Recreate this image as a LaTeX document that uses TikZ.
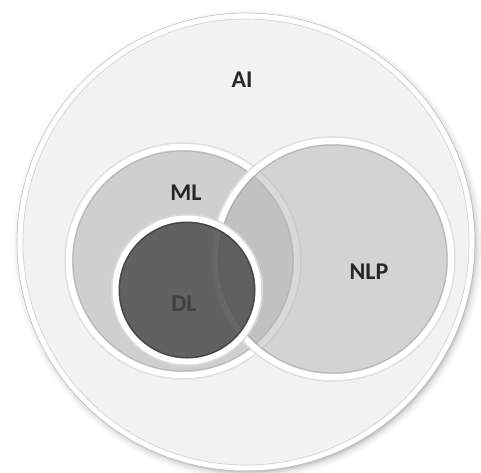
\documentclass[tikz,border=0pt]{standalone}
\usepackage{fontspec}
\setmainfont{Carlito}
\begin{document}
\begin{tikzpicture}[x=1pt,y=-1pt,
  lbl/.style={font=\fontsize{24}{24}\selectfont\bfseries, text=black!85},
  ring/.style={draw=white, line width=6pt},
  edge/.style={draw=black!30, line width=0.8pt}]
\useasboundingbox[fill=white] (0,0) rectangle (481,472);
% AI outer circle with soft shadow
\foreach \i/\o in {9/0.02,7/0.03,5/0.04,3/0.06,1.5/0.08}{
  \fill[black, opacity=\o] (248,245) circle[radius=226pt+\i pt];
}
\fill[black!5] (246,242) circle[radius=226pt];
\draw[black!25, line width=0.6pt] (246,242) circle[radius=229pt];
\draw[white, line width=5pt] (246,242) circle[radius=226pt];
\draw[black!18, line width=0.6pt] (246,242) circle[radius=223pt];
\node[lbl] (ai) at (242,80) {AI};
% ML
\draw[black!12, line width=1.5pt] (183,261) circle[radius=118pt];
\draw[ring] (183,261) circle[radius=114pt];
\fill[black!19] (183,261) circle[radius=111pt];
\draw[black!28, line width=1pt] (183,261) circle[radius=110pt];
% NLP
\draw[black!12, line width=1.5pt] (333,259) circle[radius=122pt];
\draw[ring] (333,259) circle[radius=118pt];
\fill[black!29, opacity=0.5] (333,259) circle[radius=115pt];
\draw[black!40, opacity=0.5, line width=1pt] (333,259) circle[radius=114pt];
% DL
\draw[black!15, line width=1.5pt] (187,290) circle[radius=75.5pt];
\draw[ring] (187,290) circle[radius=71.5pt];
\fill[black!68, opacity=0.88] (187,290) circle[radius=68.5pt];
\draw[black!75, opacity=0.9, line width=1pt] (187,290) circle[radius=67.5pt];
\node[lbl] (ml) at (186,193) {ML};
\node[lbl] (nlp) at (369,272) {NLP};
\node[lbl, text=black!75] (dl) at (184,304) {DL};
\end{tikzpicture}
\end{document}
